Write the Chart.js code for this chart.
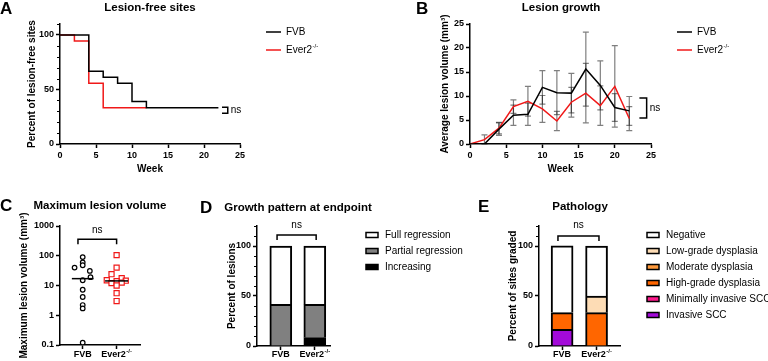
<!DOCTYPE html>
<html>
<head>
<meta charset="utf-8">
<script src="https://cdn.jsdelivr.net/npm/chart.js@4.4.1/dist/chart.umd.min.js"></script>
<style>
  body { margin: 0; background: #fff; }
  #wrap { position: relative; width: 768px; height: 361px; overflow: hidden; }
  canvas { position: absolute; }
</style>
</head>
<body>
<div id="wrap">
  <canvas id="chartA" width="370" height="180" style="left:0;top:0"></canvas>
  <canvas id="chartB" width="398" height="180" style="left:370px;top:0"></canvas>
  <canvas id="chartC" width="215" height="181" style="left:0;top:180px"></canvas>
  <canvas id="chartD" width="280" height="181" style="left:195px;top:180px"></canvas>
  <canvas id="chartE" width="298" height="181" style="left:470px;top:180px"></canvas>
</div>
<script>
// groups
const groups = ['FVB', 'Ever2'];
const groupSup = ['', '-/-'];

// A: lesion-free sites (Kaplan-Meier style steps)
const weeksFreeFvb = [0, 4, 6, 8, 10, 12, 22];
const freeFvb = [100, 66.7, 61.1, 55.6, 38.9, 33.3, 33.3];
const weeksFreeEver = [0, 2, 4, 6, 12];
const freeEver = [100, 94.4, 55.6, 33.3, 33.3];
const weekTicks = [0, 5, 10, 15, 20, 25];

// B: lesion growth, mean and SEM
const weeksGrowth = [0, 2, 4, 6, 8, 10, 12, 14, 16, 18, 20, 22];
const meanFvb = [0, 0, 3.1, 6.0, 6.2, 11.8, 10.7, 10.6, 15.6, 12.2, 7.6, 6.9];
const semFvb = [0, 0, 1.3, 2.1, 2.3, 3.5, 4.6, 4.1, 7.7, 5.1, 2.9, 3.0];
const meanEver = [0, 0.9, 3.3, 7.8, 8.9, 7.3, 4.8, 8.7, 10.6, 8.0, 12.0, 5.3];
const semEver = [0, 1.0, 1.2, 1.4, 3.1, 2.8, 2.0, 3.1, 6.2, 4.1, 8.5, 2.5];

// C: maximum lesion volume per site
const maxVolFvb = [90, 60, 48, 40, 31, 19, 15, 7.2, 4.1, 2.2, 1.7, 0.12];
const jitterFvb = [0, 0, 0, -0.24, 0.21, 0.23, 0, 0, 0, 0, 0, 0];
const maxVolEver = [105, 40, 24, 17.5, 15, 14, 14.5, 12, 12.5, 10, 5.5, 3];
const jitterEver = [0, 0, -0.15, 0.15, -0.29, 0, 0.27, -0.15, 0.15, 0, 0, 0];
const logTicks = [0.1, 1, 10, 100, 1000];

// D: growth pattern at endpoint (% of lesions)
const increasing = [0, 8.3];
const partialRegression = [41.7, 33.3];
const fullRegression = [58.3, 58.3];

// E: pathology (% of sites graded)
const invasiveScc = [16.7, 0];
const minInvasiveScc = [0, 0];
const highGrade = [16.7, 33.3];
const moderate = [0, 0];
const lowGrade = [0, 16.7];
const negative = [66.7, 50];

const FONT = '"Liberation Sans", Arial, Helvetica, sans-serif';
Chart.defaults.font.family = FONT;
Chart.defaults.color = '#000';

function median(arr) {
  const s = arr.slice().sort((a, b) => a - b);
  const m = Math.floor(s.length / 2);
  return s.length % 2 ? s[m] : (s[m - 1] + s[m]) / 2;
}

// text with an optional small raised part (for Ever2-/-)
function label(ctx, str, sup, x, y, size, weight, align) {
  ctx.save();
  ctx.fillStyle = '#000';
  ctx.textBaseline = 'middle';
  ctx.textAlign = 'left';
  const f1 = weight + ' ' + size + 'px ' + FONT;
  const f2 = weight + ' ' + Math.round(size * 0.62) + 'px ' + FONT;
  ctx.font = f1;
  const w1 = ctx.measureText(str).width;
  let w2 = 0;
  if (sup) { ctx.font = f2; w2 = ctx.measureText(sup).width + 0.5; }
  const x0 = align === 'center' ? x - (w1 + w2) / 2 : x;
  ctx.font = f1;
  ctx.fillText(str, x0, y);
  if (sup) { ctx.font = f2; ctx.fillText(sup, x0 + w1 + 0.5, y - size * 0.38); }
  ctx.restore();
}

const decor = {
  id: 'decor',
  beforeDatasetsDraw(chart, args, o) {
    if (!o.errors) return;
    const {ctx, scales: {x, y}} = chart;
    ctx.save();
    ctx.strokeStyle = 'rgba(0,0,0,0.5)';
    ctx.lineWidth = 1.2;
    o.errors.forEach(e => {
      e.x.forEach((w, i) => {
        if (!e.sem[i]) return;
        const px = x.getPixelForValue(w);
        const top = y.getPixelForValue(e.mean[i] + e.sem[i]);
        const bot = y.getPixelForValue(Math.max(e.mean[i] - e.sem[i], 0));
        ctx.beginPath();
        ctx.moveTo(px, top); ctx.lineTo(px, bot);
        ctx.moveTo(px - 3, top); ctx.lineTo(px + 3, top);
        ctx.moveTo(px - 3, bot); ctx.lineTo(px + 3, bot);
        ctx.stroke();
      });
    });
    ctx.restore();
  },
  afterDraw(chart, args, o) {
    const ctx = chart.ctx;
    const {x, y} = chart.scales;
    if (o.letter) label(ctx, o.letter, '', o.letterPos[0], o.letterPos[1], 17, 'bold', 'left');
    if (o.title) label(ctx, o.title, '', o.titlePos[0], o.titlePos[1], 11.5, 'bold', 'center');
    if (o.minor) {
      ctx.save();
      ctx.strokeStyle = '#000';
      ctx.lineWidth = 1;
      o.minor.forEach(v => {
        const py = Math.round(y.getPixelForValue(v)) + 0.5;
        ctx.beginPath();
        ctx.moveTo(y.right - 3, py); ctx.lineTo(y.right, py);
        ctx.stroke();
      });
      ctx.restore();
    }
    if (o.catY) {
      groups.forEach((g, i) => label(ctx, g, groupSup[i], x.getPixelForValue(i), o.catY, 9, 'bold', 'center'));
    }
    if (o.lineLegend) {
      const L = o.lineLegend;
      chart.data.datasets.filter(d => d.legend).forEach((d, i) => {
        const py = L.y + i * L.dy;
        ctx.save();
        ctx.strokeStyle = d.borderColor;
        ctx.lineWidth = 1.5;
        ctx.beginPath();
        ctx.moveTo(L.x, py); ctx.lineTo(L.x + 15, py);
        ctx.stroke();
        ctx.restore();
        label(ctx, d.label, d.sup, L.x + 20, py, 10, 'normal', 'left');
      });
    }
    if (o.boxLegend) {
      const L = o.boxLegend;
      chart.data.datasets.slice().reverse().forEach((d, i) => {
        const py = L.y + i * L.dy;
        ctx.save();
        ctx.fillStyle = d.backgroundColor;
        ctx.strokeStyle = '#000';
        ctx.lineWidth = 1.5;
        ctx.fillRect(L.x, py - 2.5, 12, 5);
        ctx.strokeRect(L.x, py - 2.5, 12, 5);
        ctx.restore();
        label(ctx, d.label, '', L.x + 19, py, 10, 'normal', 'left');
      });
    }
    ctx.save();
    ctx.strokeStyle = '#000';
    ctx.lineWidth = 1.5;
    if (o.vBracket) {
      const b = o.vBracket;
      const x0 = x.getPixelForValue(b.x0), x1 = x.getPixelForValue(b.x1);
      const y0 = y.getPixelForValue(b.y0), y1 = y.getPixelForValue(b.y1);
      ctx.beginPath();
      ctx.moveTo(x0, y0); ctx.lineTo(x1, y0); ctx.lineTo(x1, y1); ctx.lineTo(x0, y1);
      ctx.stroke();
      label(ctx, 'ns', '', x1 + 3, (y0 + y1) / 2, 10, 'normal', 'left');
    }
    if (o.hBracket) {
      const b = o.hBracket;
      const x0 = x.getPixelForValue(b.x0), x1 = x.getPixelForValue(b.x1);
      const yt = y.getPixelForValue(b.y);
      ctx.beginPath();
      ctx.moveTo(x0, yt + 5); ctx.lineTo(x0, yt); ctx.lineTo(x1, yt); ctx.lineTo(x1, yt + 5);
      ctx.stroke();
      label(ctx, 'ns', '', (x0 + x1) / 2, y.getPixelForValue(b.textY), 10, 'normal', 'center');
    }
    ctx.restore();
  }
};

function axis(extra) {
  return Object.assign({
    offset: false,
    border: {color: '#000', width: 1.5},
    grid: {offset: false, drawOnChartArea: false, drawTicks: true, tickLength: 4, tickColor: '#000', tickWidth: 1.5},
    ticks: {font: {size: 9, weight: 'bold'}, padding: 2, maxRotation: 0, color: '#000'}
  }, extra);
}
function axisTitle(text, pad) {
  return {display: true, text: text, color: '#000', font: {size: 10, weight: 'bold'}, padding: pad};
}
const fixTicks = vals => s => { s.ticks = vals.map(v => ({value: v})); };
const pts = (xs, ys) => xs.map((v, i) => ({x: v, y: ys[i]}));
const base = {responsive: false, animation: false, events: []};

// ---- A ----
new Chart(document.getElementById('chartA'), {
  type: 'line',
  data: {datasets: [
    {label: 'FVB', sup: '', legend: true, data: pts(weeksFreeFvb, freeFvb), borderColor: '#000', borderWidth: 1.5, stepped: true, pointRadius: 0},
    {label: 'Ever2', sup: '-/-', legend: true, data: pts(weeksFreeEver, freeEver), borderColor: '#f01818', borderWidth: 1.5, stepped: true, pointRadius: 0}
  ]},
  options: Object.assign({}, base, {
    layout: {padding: {top: 24, right: 130, left: 0, bottom: 0}},
    plugins: {legend: {display: false}, tooltip: {enabled: false},
      decor: {letter: 'A', letterPos: [0, 9], title: 'Lesion-free sites', titlePos: [150, 8],
        minor: [10, 20, 30, 40, 60, 70, 80, 90, 110],
        lineLegend: {x: 266, y: 32, dy: 18},
        vBracket: {x0: 22.5, x1: 23.3, y0: 33.8, y1: 28.3}}},
    scales: {
      x: axis({type: 'linear', min: 0, max: 25, afterBuildTicks: fixTicks(weekTicks),
        afterFit: s => { s.height = 36; }, title: axisTitle('Week', {top: 0, bottom: 5})}),
      y: axis({type: 'linear', min: 0, max: 110, afterBuildTicks: fixTicks([0, 50, 100]),
        afterFit: s => { s.width = 60; }, title: axisTitle('Percent of lesion-free sites', {top: 26, bottom: 0})})
    }
  }),
  plugins: [decor]
});

// ---- B ----
new Chart(document.getElementById('chartB'), {
  type: 'line',
  data: {datasets: [
    {label: 'FVB', sup: '', legend: true, data: pts(weeksGrowth, meanFvb), borderColor: '#000', borderWidth: 1.5, pointRadius: 0},
    {label: 'Ever2', sup: '-/-', legend: true, data: pts(weeksGrowth, meanEver), borderColor: '#f01818', borderWidth: 1.5, pointRadius: 0}
  ]},
  options: Object.assign({}, base, {
    layout: {padding: {top: 24, right: 117, left: 0, bottom: 0}},
    plugins: {legend: {display: false}, tooltip: {enabled: false},
      decor: {letter: 'B', letterPos: [46, 9], title: 'Lesion growth', titlePos: [191, 8],
        lineLegend: {x: 307, y: 32, dy: 18},
        errors: [{x: weeksGrowth, mean: meanFvb, sem: semFvb}, {x: weeksGrowth, mean: meanEver, sem: semEver}],
        vBracket: {x0: 23.4, x1: 24.4, y0: 9.6, y1: 5.4}}},
    scales: {
      x: axis({type: 'linear', min: 0, max: 25, afterBuildTicks: fixTicks(weekTicks),
        afterFit: s => { s.height = 36; }, title: axisTitle('Week', {top: 0, bottom: 5})}),
      y: axis({type: 'linear', min: 0, max: 25, afterBuildTicks: fixTicks([0, 5, 10, 15, 20, 25]),
        afterFit: s => { s.width = 100; }, title: axisTitle('Average lesion volume (mm\u00B3)', {top: 69, bottom: 0})})
    }
  }),
  plugins: [decor]
});

// ---- C ----
const medFvb = median(maxVolFvb);
const medEver = median(maxVolEver);
new Chart(document.getElementById('chartC'), {
  type: 'scatter',
  data: {datasets: [
    {type: 'line', data: [{x: -0.32, y: medFvb}, {x: 0.32, y: medFvb}], borderColor: '#000', borderWidth: 1.5, pointRadius: 0},
    {type: 'line', data: [{x: 0.66, y: medEver}, {x: 1.34, y: medEver}], borderColor: '#000', borderWidth: 1.5, pointRadius: 0},
    {label: 'FVB', data: maxVolFvb.map((v, i) => ({x: jitterFvb[i], y: v})), pointStyle: 'circle', pointRadius: 2.3,
      pointBorderWidth: 1.2, pointBorderColor: '#000', pointBackgroundColor: '#fff'},
    {label: 'Ever2', data: maxVolEver.map((v, i) => ({x: 1 + jitterEver[i], y: v})), pointStyle: 'rect', pointRadius: 3.6,
      pointBorderWidth: 1.2, pointBorderColor: '#f01818', pointBackgroundColor: '#fff'}
  ]},
  options: Object.assign({}, base, {
    layout: {padding: {top: 46, right: 75, left: 0, bottom: 0}},
    plugins: {legend: {display: false}, tooltip: {enabled: false},
      decor: {letter: 'C', letterPos: [0, 26], title: 'Maximum lesion volume', titlePos: [100, 26],
        catY: 175, hBracket: {x0: -0.14, x1: 1.0, y: 360, textY: 720}}},
    scales: {
      x: axis({type: 'linear', min: -0.67, max: 1.69, afterBuildTicks: fixTicks([0, 1]),
        ticks: {display: false}, afterFit: s => { s.height = 16; }}),
      y: axis({type: 'logarithmic', min: 0.1, max: 1000, afterBuildTicks: fixTicks(logTicks),
        ticks: {font: {size: 9, weight: 'bold'}, padding: 2, color: '#000', callback: v => String(v)},
        afterFit: s => { s.width = 60; }, title: axisTitle('Maximum lesion volume (mm\u00B3)', {top: 18, bottom: 0})})
    }
  }),
  plugins: [decor]
});

// stacked bars on a linear x scale
function barSet(labelTxt, vals, color) {
  return {label: labelTxt, data: vals.map((v, i) => ({x: i, y: v || null})), backgroundColor: color,
    borderColor: '#000', borderWidth: 2, barThickness: 22};
}
function barOptions(pad, yWidth, xMin, xMax, yTitle, titlePad, minor, decorOpts) {
  return Object.assign({}, base, {
    layout: {padding: pad},
    plugins: {legend: {display: false}, tooltip: {enabled: false}, decor: Object.assign({catY: 175, minor: minor}, decorOpts)},
    scales: {
      x: axis({type: 'linear', stacked: true, min: xMin, max: xMax, afterBuildTicks: fixTicks([0, 1]),
        ticks: {display: false}, afterFit: s => { s.height = 15; }}),
      y: axis({type: 'linear', stacked: true, min: 0, max: 120, afterBuildTicks: fixTicks([0, 50, 100]),
        afterFit: s => { s.width = yWidth; }, title: axisTitle(yTitle, {top: titlePad, bottom: 0})})
    }
  });
}

// ---- D ----
new Chart(document.getElementById('chartD'), {
  type: 'bar',
  data: {datasets: [
    barSet('Increasing', increasing, '#000'),
    barSet('Partial regression', partialRegression, '#808080'),
    barSet('Full regression', fullRegression, '#fff')
  ]},
  options: barOptions({top: 46, right: 145, left: 0, bottom: 0}, 62, -0.7, 1.447, 'Percent of lesions', 31,
    [10, 20, 30, 40, 60, 70, 80, 90, 110, 120],
    {letter: 'D', letterPos: [5, 28], title: 'Growth pattern at endpoint', titlePos: [103, 28],
      boxLegend: {x: 171, y: 55, dy: 16}, hBracket: {x0: -0.11, x1: 1.04, y: 111, textY: 121}}),
  plugins: [decor]
});

// ---- E ----
new Chart(document.getElementById('chartE'), {
  type: 'bar',
  data: {datasets: [
    barSet('Invasive SCC', invasiveScc, '#a30ad9'),
    barSet('Minimally invasive SCC', minInvasiveScc, '#ff1a8c'),
    barSet('High-grade dysplasia', highGrade, '#ff6600'),
    barSet('Moderate dysplasia', moderate, '#ff9a3c'),
    barSet('Low-grade dysplasia', lowGrade, '#fddcb5'),
    barSet('Negative', negative, '#fff')
  ]},
  options: barOptions({top: 46, right: 148, left: 0, bottom: 0}, 69, -0.67, 1.68, 'Percent of sites graded', 37,
    [110, 120],
    {letter: 'E', letterPos: [8, 27], title: 'Pathology', titlePos: [110, 27],
      boxLegend: {x: 177, y: 55, dy: 16}, hBracket: {x0: -0.12, x1: 1.07, y: 110, textY: 121}}),
  plugins: [decor]
});
</script>
</body>
</html>
